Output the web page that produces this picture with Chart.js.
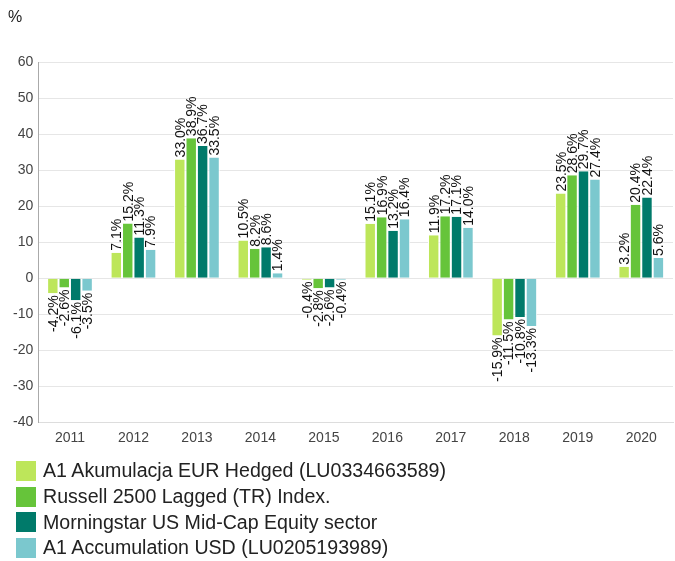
<!DOCTYPE html>
<html>
<head>
<meta charset="utf-8">
<script src="https://cdn.jsdelivr.net/npm/chart.js@4"></script>
<style>
    html, body { margin: 0; padding: 0; background: #fff; }
    #wrap { position: relative; width: 675px; height: 459px; }
    #legend { position: absolute; left: 16px; top: 458px; font-family: "Liberation Sans", Arial, sans-serif; font-size: 19.6px; color: #222; }
    .leg-row { display: flex; align-items: center; height: 25.7px; }
    .leg-box { width: 20px; height: 20px; margin-right: 7px; }
</style>
</head>
<body>
<div id="wrap"><canvas id="chart"></canvas></div>
<div id="legend"></div>
<script>
const years = ["2011", "2012", "2013", "2014", "2015", "2016", "2017", "2018", "2019", "2020"];

const seriesNames = [
    "A1 Akumulacja EUR Hedged (LU0334663589)",
    "Russell 2500 Lagged (TR) Index.",
    "Morningstar US Mid-Cap Equity sector",
    "A1 Accumulation USD (LU0205193989)"
];

const fundEur = [-4.2, 7.1, 33.0, 10.5, -0.4, 15.1, 11.9, -15.9, 23.5, 3.2];
const russell = [-2.6, 15.2, 38.9, 8.2, -2.8, 16.9, 17.2, -11.5, 28.6, 20.4];
const sector = [-6.1, 11.3, 36.7, 8.6, -2.6, 13.2, 17.1, -10.8, 29.7, 22.4];
const fundUsd = [-3.5, 7.9, 33.5, 1.4, -0.4, 16.4, 14.0, -13.3, 27.4, 5.6];

const colors = ["#bde65a", "#66c43a", "#007a6a", "#7bc8ce"];
const FONT = "'Liberation Sans', Arial, sans-serif";

// rotated value labels at the end of each bar
const valueLabels = {
    id: "valueLabels",
    afterDatasetsDraw(chart) {
        const ctx = chart.ctx;
        ctx.save();
        ctx.font = "14px " + FONT;
        ctx.fillStyle = "#111";
        ctx.textBaseline = "middle";
        chart.data.datasets.forEach((ds, i) => {
            const meta = chart.getDatasetMeta(i);
            meta.data.forEach((bar, j) => {
                const v = ds.data[j];
                ctx.save();
                ctx.translate(bar.x, bar.y + (v >= 0 ? -2 : 2));
                ctx.rotate(-Math.PI / 2);
                ctx.textAlign = v >= 0 ? "left" : "right";
                ctx.fillText(v.toFixed(1) + "%", 0, 1);
                ctx.restore();
            });
        });
        ctx.restore();
    }
};

const datasets = [fundEur, russell, sector, fundUsd].map((d, i) => ({
    label: seriesNames[i],
    data: d,
    backgroundColor: colors[i],
    borderColor: "#fff",
    borderWidth: { left: 1, right: 1, top: 0, bottom: 0 },
    borderSkipped: false,
    barPercentage: 1,
    categoryPercentage: 0.72
}));

new Chart(document.getElementById("chart"), {
    type: "bar",
    data: { labels: years, datasets: datasets },
    plugins: [valueLabels],
    options: {
        responsive: true,
        maintainAspectRatio: false,
        animation: false,
        layout: { padding: { left: 8, right: 2, top: 6, bottom: 12 } },
        plugins: {
            legend: { display: false },
            tooltip: { enabled: false },
            title: {
                display: true,
                text: "%",
                align: "start",
                color: "#222",
                font: { family: FONT, size: 16, weight: "normal" },
                padding: { top: 2, bottom: 35 }
            }
        },
        scales: {
            x: {
                grid: { display: false },
                border: { color: "#ddd" },
                ticks: { color: "#444", font: { family: FONT, size: 14 }, padding: 0 }
            },
            y: {
                min: -40,
                max: 60,
                ticks: { stepSize: 10, color: "#444", font: { family: FONT, size: 14 }, padding: 5 },
                grid: { color: "#e6e6e6", drawTicks: false },
                border: { color: "#aaa" }
            }
        }
    }
});

const legend = document.getElementById("legend");
seriesNames.forEach((name, i) => {
    const row = document.createElement("div");
    row.className = "leg-row";
    row.innerHTML = `<div class="leg-box" style="background:${colors[i]}"></div><span>${name}</span>`;
    legend.appendChild(row);
});
</script>
</body>
</html>
